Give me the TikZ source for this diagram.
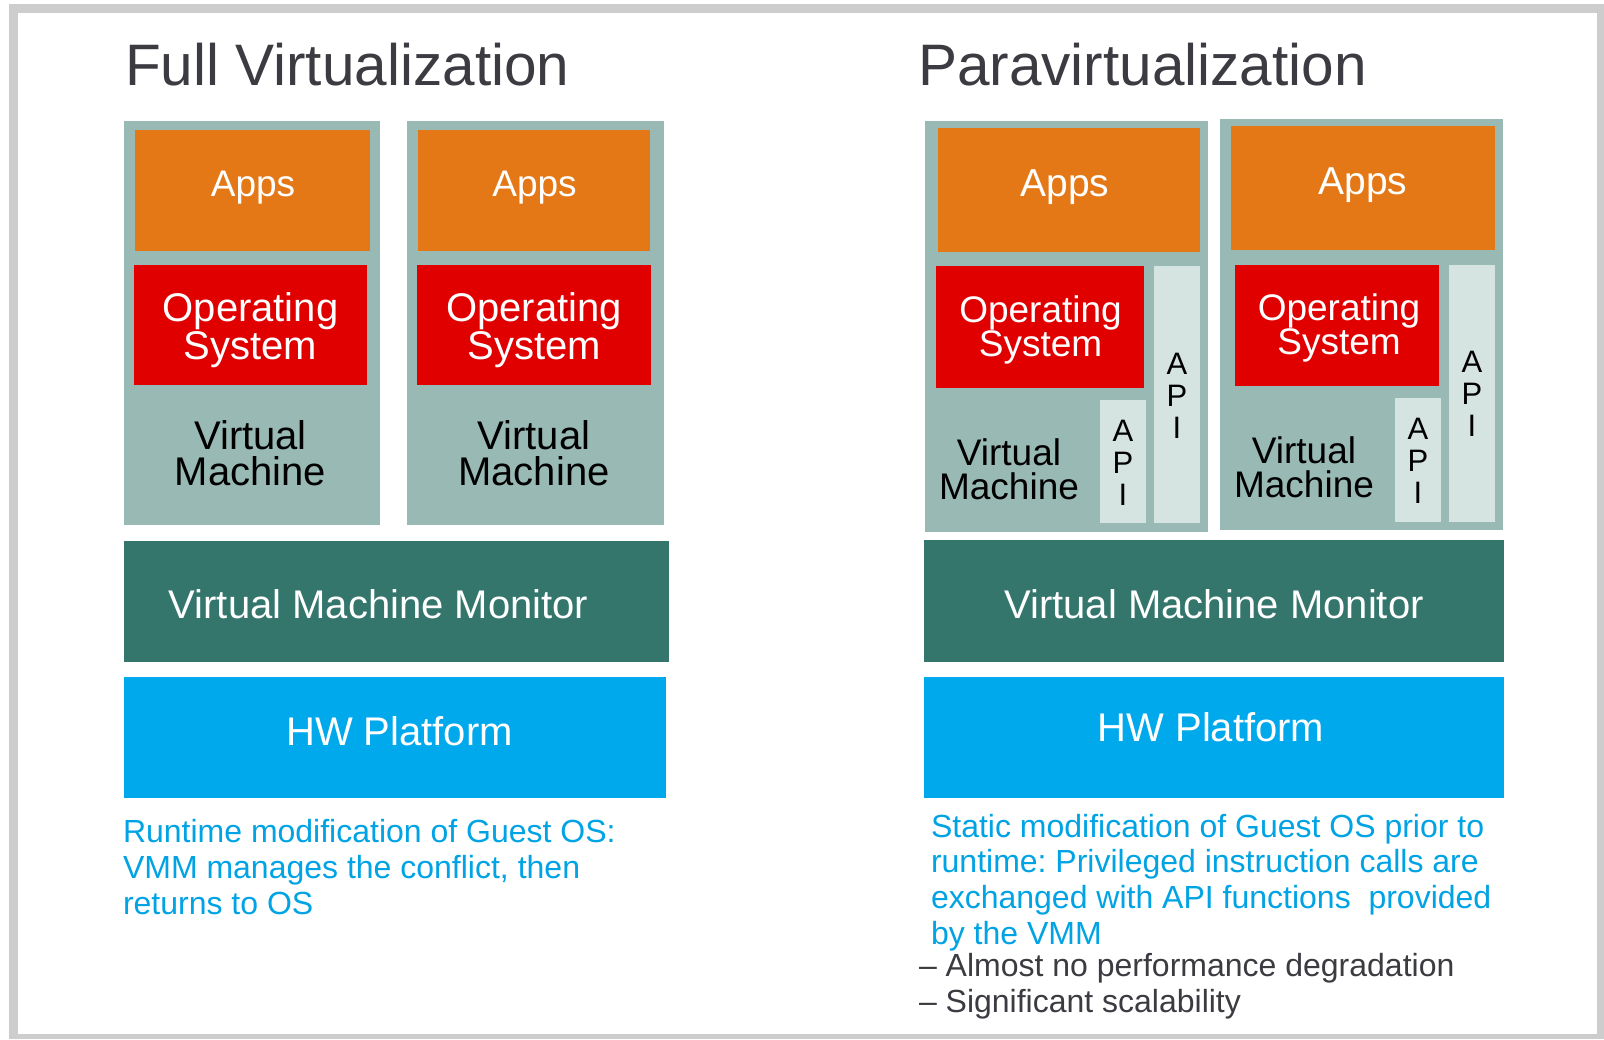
\documentclass[tikz,border=0pt]{standalone}
\usepackage{fontspec}
\setmainfont{Liberation Sans}
\frenchspacing
\definecolor{framecol}{HTML}{CDCDCD}
\definecolor{vmcol}{HTML}{98B9B4}
\definecolor{appscol}{HTML}{E47817}
\definecolor{oscol}{HTML}{E00000}
\definecolor{apicol}{HTML}{D6E4E1}
\definecolor{vmmcol}{HTML}{34766C}
\definecolor{hwcol}{HTML}{00A8EC}
\definecolor{bluetxt}{HTML}{00A3E4}
\definecolor{titlecol}{HTML}{3B3B41}
\newcommand\rbox[6]{\node[#1, minimum width={#5-#3}, minimum height={#6-#4}] (#2) at (#3,#4) {};}
\begin{document}
\begin{tikzpicture}[x=1pt,y=-1pt,
  blk/.style={rectangle, inner sep=0pt, outer sep=0pt, anchor=north west, draw=none},
  vmbox/.style={blk, fill=vmcol},
  appsbox/.style={blk, fill=appscol},
  osbox/.style={blk, fill=oscol},
  apibox/.style={blk, fill=apicol},
  vmmbox/.style={blk, fill=vmmcol},
  hwbox/.style={blk, fill=hwcol},
  txt/.style={inner sep=0pt, outer sep=0pt, align=center},
  ttl/.style={txt, text=titlecol, font=\fontsize{58.5}{60}\selectfont, anchor=base west},
  wl/.style={txt, text=white, font=\fontsize{40}{36}\selectfont, anchor=base},
  bl/.style={txt, text=black, font=\fontsize{40}{36.5}\selectfont, anchor=base},
  appsL/.style={txt, text=white, font=\fontsize{37}{36}\selectfont, anchor=base},
  appsR/.style={txt, text=white, font=\fontsize{39}{36}\selectfont, anchor=base},
  osR/.style={txt, text=white, font=\fontsize{37}{31.6}\selectfont, anchor=base},
  vmR/.style={txt, text=black, font=\fontsize{37}{33.7}\selectfont, anchor=base},
  apitxt/.style={txt, text=black, font=\fontsize{31}{32}\selectfont, anchor=base},
  note/.style={inner sep=0pt, outer sep=0pt, align=left, anchor=base west, text=bluetxt, font=\fontsize{32}{35.7}\selectfont\frenchspacing},
  bullets/.style={inner sep=0pt, outer sep=0pt, align=left, anchor=base west, text=titlecol, font=\fontsize{32}{36}\selectfont}
]
\useasboundingbox (0,0) rectangle (1604,1039);
% frame
\fill[framecol] (9,4) rectangle (1604,1039);
\fill[white] (18,13) rectangle (1597,1034);

% titles
\node[ttl] (t1) at (125,85.5) {Full Virtualization};
\node[ttl] (t2) at (918,85.5) {Paravirtualization};

% ---- Full virtualization ----
\rbox{vmbox}{vm1}{124}{120.5}{380}{525}
\rbox{appsbox}{apps1}{135}{130}{370}{251}
\rbox{osbox}{os1}{134}{264.5}{367}{385}
\rbox{vmbox}{vm2}{407}{120.5}{664}{525}
\rbox{appsbox}{apps2}{418}{130}{650}{251}
\rbox{osbox}{os2}{417}{264.5}{651}{385}
\rbox{vmmbox}{vmmL}{124}{541}{669}{662}
\rbox{hwbox}{hwL}{124}{677}{666}{798}

% base anchor of a multi-line node = baseline of its last line
\node[appsL] (appsL1) at (253,196) {Apps};
\node[appsL] (appsL2) at (534.5,196) {Apps};
\node[wl] (osL1) at (250.5,359) {Operating\\System};
\node[wl] (osL2) at (534,359) {Operating\\System};
\node[bl] (vmL1) at (250.5,485.5) {Virtual\\Machine};
\node[bl] (vmL2) at (534,485.5) {Virtual\\Machine};
\node[wl] (vmmL1) at (378.5,618) {Virtual Machine Monitor};
\node[wl] (hwL1) at (399.5,745.5) {HW Platform};
\node[note] (noteL) at (123,914.1) {Runtime modification of Guest OS:\\VMM manages the conflict, then\\returns to OS};

% ---- Paravirtualization ----
\rbox{vmbox}{vm3}{925}{120.5}{1208}{532}
\rbox{appsbox}{apps3}{938}{128}{1199.5}{252}
\rbox{osbox}{os3}{936}{266}{1144}{388}
\rbox{apibox}{apiT3}{1154}{266}{1199.5}{523}
\rbox{apibox}{apiS3}{1100}{400}{1146}{523}
\rbox{vmbox}{vm4}{1220}{119}{1503}{530}
\rbox{appsbox}{apps4}{1231}{126}{1495}{250}
\rbox{osbox}{os4}{1234.5}{264.5}{1439}{386}
\rbox{apibox}{apiT4}{1449}{264.5}{1495}{522}
\rbox{apibox}{apiS4}{1395}{398}{1441}{522}
\rbox{vmmbox}{vmmR}{924}{540}{1504}{662}
\rbox{hwbox}{hwR}{924}{677}{1504}{798}

\node[appsR] (appsR3) at (1065,196) {Apps};
\node[appsR] (appsR4) at (1363,194.5) {Apps};
\node[osR] (osR3) at (1040.5,356.6) {Operating\\System};
\node[osR] (osR4) at (1339,354.7) {Operating\\System};
\node[vmR] (vmR3) at (1009,499) {Virtual\\Machine};
\node[vmR] (vmR4) at (1304,497) {Virtual\\Machine};
\node[apitxt] (apiTt3) at (1177,438) {A\\P\\I};
\node[apitxt] (apiSt3) at (1123,505) {A\\P\\I};
\node[apitxt] (apiTt4) at (1472,436) {A\\P\\I};
\node[apitxt] (apiSt4) at (1418,503) {A\\P\\I};
\node[wl] (vmmR1) at (1214,618) {Virtual Machine Monitor};
\node[wl] (hwR1) at (1211,741.7) {HW Platform};
\node[note] (noteR) at (931,944.1) {Static modification of Guest OS prior to\\runtime: Privileged instruction calls are\\exchanged with API functions\ \ provided\\by the VMM};
\node[bullets] (bul) at (919,1012.7) {– Almost no performance degradation\\– Significant scalability};
\end{tikzpicture}
\end{document}
